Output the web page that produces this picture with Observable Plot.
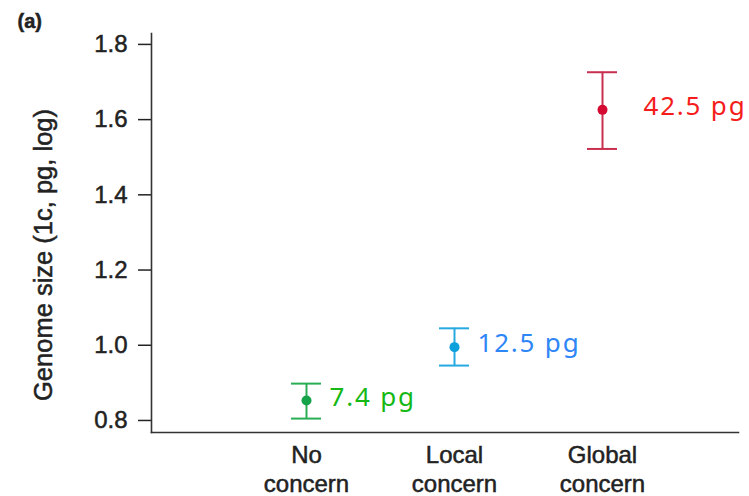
<!DOCTYPE html>
<html>
<head>
<meta charset="utf-8">
<script src="https://cdn.jsdelivr.net/npm/d3@7"></script>
<script src="https://cdn.jsdelivr.net/npm/@observablehq/plot@0.6"></script>
<style>
  html, body { margin: 0; padding: 0; background: #fff; }
</style>
</head>
<body>
<div id="chart"></div>
<script>
// ---- data ----
const categories = ["No\nconcern", "Local\nconcern", "Global\nconcern"];
const means = [0.853, 0.995, 1.626];
const lower = [0.805, 0.946, 1.522];
const upper = [0.898, 1.045, 1.726];
const sizeLabels = ["7.4 pg", "12.5 pg", "42.5 pg"];
const yTicks = [0.8, 1.0, 1.2, 1.4, 1.6, 1.8];
const yLabel = "Genome size (1c, pg, log)";
const panelLabel = "(a)";

// ---- styles ----
const barColors = ["#2aae55", "#26a9e0", "#c8304f"];
const dotColors = ["#14a348", "#0ea0dc", "#d50a32"];
const textColors = ["#16b816", "#2f86f6", "#f51c1c"];

const data = categories.map((c, i) => ({
  cat: c, mean: means[i], lo: lower[i], hi: upper[i], label: sizeLabels[i],
  bar: barColors[i], dot: dotColors[i], txt: textColors[i]
}));

const chart = Plot.plot({
  width: 749,
  height: 496,
  marginTop: 33,
  marginBottom: 64,
  marginLeft: 151,
  marginRight: 11,
  style: {fontFamily: "'Liberation Sans', Arial, sans-serif", fontSize: "24px", color: "#222", background: "#fff"},
  color: {type: "identity"},
  x: {type: "band", domain: categories, paddingInner: 0.798, paddingOuter: 0.8755, align: 0.535, axis: null},
  y: {domain: [0.768, 1.829], axis: null},
  marks: [
    Plot.axisY({ticks: yTicks, tickFormat: d3.format(".1f"), tickSize: 13, tickPadding: 11, label: null, fontSize: 24, strokeWidth: 1.5}),
    Plot.axisX({tickSize: 0, tickPadding: 10, label: null, fontSize: 24, lineHeight: 1.2}),
    Plot.frame({anchor: "left", strokeWidth: 1.6, stroke: "#333"}),
    Plot.frame({anchor: "bottom", strokeWidth: 1.6, stroke: "#333"}),
    Plot.ruleX(data, {x: "cat", y1: "lo", y2: "hi", stroke: "bar", strokeWidth: 2}),
    Plot.tickY(data, {x: "cat", y: "lo", stroke: "bar", strokeWidth: 2}),
    Plot.tickY(data, {x: "cat", y: "hi", stroke: "bar", strokeWidth: 2}),
    Plot.dot(data, {x: "cat", y: "mean", fill: "dot", r: 5}),
    Plot.text(data.slice(0, 2), {x: "cat", y: "mean", text: "label", fill: "txt", dx: 23, dy: -3, textAnchor: "start", fontFamily: "Noto Sans", fontSize: 26}),
    Plot.text(data.slice(2), {x: "cat", y: "mean", text: "label", fill: "txt", dx: 41, dy: -3, textAnchor: "start", fontFamily: "Noto Sans", fontSize: 26}),
    Plot.text([yLabel], {frameAnchor: "left", rotate: -90, dx: -108, dy: 22, textAnchor: "middle", lineAnchor: "middle", fontSize: 25.5, fill: "#222"}),
    Plot.text([panelLabel], {frameAnchor: "top-left", dx: -134, dy: -12, textAnchor: "start", lineAnchor: "middle", fontWeight: "bold", fontSize: 20, fill: "#222"})
  ]
});

document.getElementById("chart").appendChild(chart);
chart.querySelectorAll("g[font-family='Noto Sans'] text").forEach(t => t.style.letterSpacing = "1.8px");
chart.querySelectorAll("text").forEach(t => {
  if (t.closest("g[font-family='Noto Sans']")) return;
  t.style.stroke = "#222";
  t.style.strokeWidth = "0.5px";
});
</script>
</body>
</html>
